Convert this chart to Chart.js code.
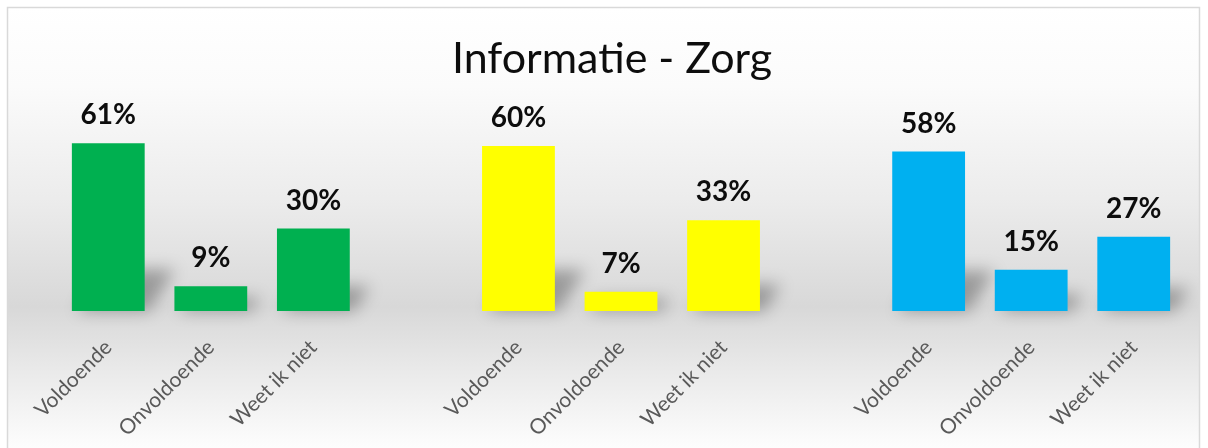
<!DOCTYPE html>
<html>
<head>
<meta charset="utf-8">
<script src="https://cdn.jsdelivr.net/npm/chart.js@4.4.1/dist/chart.umd.min.js"></script>
<style>
  html, body { margin: 0; padding: 0; background: #fff; }
  #wrap { width: 1208px; height: 448px; }
</style>
</head>
<body>
<div id="wrap"><canvas id="zorgChart" width="1208" height="448"></canvas></div>
<script>
//chart data (percentages per group)
var antwoorden = ["Voldoende", "Onvoldoende", "Weet ik niet"];
var groen = [61, 9, 30];
var geel = [60, 7, 33];
var blauw = [58, 15, 27];
var kleuren = ["#00B050", "#FFFF00", "#00B0F0"];
var titel = "Informatie - Zorg";

//build labels / values with an empty slot between the groups
var labels = [], values = [], barColors = [];
[groen, geel, blauw].forEach(function(groep, g){
    if( g > 0 ){
        labels.push("");
        values.push(null);
        barColors.push("rgba(0,0,0,0)");
    }
    for( var i = 0; i < groep.length; i++ ){
        labels.push( antwoorden[i] );
        values.push( groep[i] );
        barColors.push( kleuren[g] );
    }
});

//background gradient + border
var achtergrond = {
    id: "achtergrond",
    beforeDraw: function(chart){
        var ctx = chart.ctx;
        ctx.save();
        ctx.fillStyle = "#ffffff";
        ctx.fillRect(0, 0, chart.width, chart.height);
        var grad = ctx.createLinearGradient(0, 7, 0, chart.height);
        grad.addColorStop(0, "#ffffff");
        grad.addColorStop(0.18, "#fbfbfb");
        grad.addColorStop(0.45, "#ebebeb");
        grad.addColorStop(0.68, "#d8d8d8");
        grad.addColorStop(0.82, "#e9e9e9");
        grad.addColorStop(1, "#fdfdfd");
        ctx.fillStyle = grad;
        ctx.fillRect(7, 7, 1193, chart.height - 6);
        ctx.strokeStyle = "#d9d9d9";
        ctx.lineWidth = 1.5;
        ctx.strokeRect(7.5, 7.5, 1192, chart.height);
        ctx.restore();
    }
};

//soft shadow behind the bars
var schaduw = {
    id: "schaduw",
    beforeDatasetsDraw: function(chart){
        var ctx = chart.ctx;
        var meta = chart.getDatasetMeta(0);
        ctx.save();
        ctx.filter = "blur(8px)";
        ctx.fillStyle = "rgba(0,0,0,0.3)";
        meta.data.forEach(function(bar, i){
            if( values[i] === null ) return;
            var p = bar.getProps(["x", "y", "base", "width"], true);
            var h = p.base - p.y;
            var x0 = p.x - p.width / 2, x1 = p.x + p.width / 2;
            var dx = 10 + h * 0.12, dy = 8 + h * 0.2;
            ctx.beginPath();
            ctx.moveTo(x0 + 6, p.base);
            ctx.lineTo(x1 + 4, p.base);
            ctx.lineTo(x1 + dx, p.base - dy);
            ctx.lineTo(x0 + dx, p.base - dy);
            ctx.closePath();
            ctx.fill();
        });
        ctx.restore();
    }
};

//percentage labels above the bars
var waardeLabels = {
    id: "waardeLabels",
    afterDatasetsDraw: function(chart){
        var ctx = chart.ctx;
        var meta = chart.getDatasetMeta(0);
        ctx.save();
        ctx.font = "bold 28px Lato";
        ctx.fillStyle = "#0d0d0d";
        ctx.textAlign = "center";
        ctx.textBaseline = "alphabetic";
        meta.data.forEach(function(bar, i){
            if( values[i] === null ) return;
            ctx.fillText( values[i] + "%", bar.x, bar.y - 19 );
        });
        ctx.restore();
    }
};

var ctx = document.getElementById("zorgChart").getContext("2d");
var zorgChart = new Chart(ctx, {
    type: "bar",
    data: {
        labels: labels,
        datasets: [{
            data: values,
            backgroundColor: barColors,
            categoryPercentage: 1,
            barPercentage: 0.71
        }]
    },
    options: {
        responsive: false,
        animation: false,
        events: [],
        layout: { padding: { left: 39, right: 23, top: 0, bottom: 0 } },
        plugins: {
            legend: { display: false },
            tooltip: { enabled: false },
            title: {
                display: true,
                text: titel,
                color: "#0d0d0d",
                font: { family: "Lato", size: 43, weight: "normal", lineHeight: 1.2 },
                padding: { top: 33, bottom: 6.4 }
            }
        },
        scales: {
            x: {
                grid: { display: false },
                border: { display: false },
                ticks: {
                    autoSkip: false,
                    minRotation: 45,
                    maxRotation: 45,
                    color: "#595959",
                    padding: 16,
                    font: { family: "Lato", size: 21 }
                },
                afterFit: function(scale){ scale.height = 137; }
            },
            y: {
                min: 0,
                max: 80,
                grid: { display: false },
                border: { display: false },
                ticks: { display: false },
                afterFit: function(scale){ scale.width = 18; }
            }
        }
    },
    plugins: [achtergrond, schaduw, waardeLabels]
});
</script>
</body>
</html>
